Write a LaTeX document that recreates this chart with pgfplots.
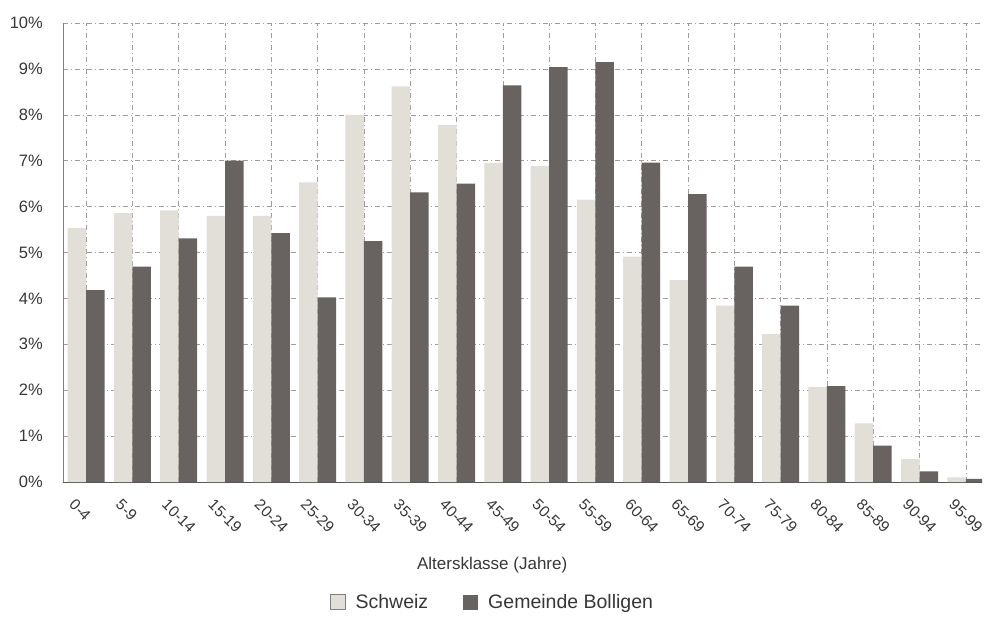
\documentclass[border=0pt]{standalone}
\usepackage{fontspec}
\setmainfont{Liberation Sans}
\usepackage{pgfplots}
\usepackage{pgfplotstable}
\pgfplotsset{compat=1.18}
\definecolor{lightbar}{RGB}{226,223,216}
\definecolor{darkbar}{RGB}{104,99,97}
\definecolor{txt}{RGB}{55,55,55}
\definecolor{gridc}{RGB}{165,155,155}
\pgfplotstableread{
x schweiz bolligen
0 5.53 4.18
1 5.86 4.69
2 5.92 5.31
3 5.80 7.00
4 5.80 5.42
5 6.53 4.02
6 8.00 5.25
7 8.62 6.31
8 7.78 6.50
9 6.95 8.64
10 6.88 9.04
11 6.15 9.15
12 4.91 6.96
13 4.40 6.27
14 3.84 4.69
15 3.22 3.84
16 2.07 2.09
17 1.28 0.79
18 0.50 0.23
19 0.10 0.07
}\datatable
\begin{document}
\begin{tikzpicture}
\useasboundingbox (-63pt,-137pt) rectangle (923pt,482pt);
\begin{axis}[
  at={(0pt,0pt)}, anchor=south west,
  scale only axis, width=919pt, height=459pt,
  xmin=-0.5, xmax=19.35, ymin=0, ymax=10,
  xtick={0,...,19},
  xticklabels={0-4,5-9,10-14,15-19,20-24,25-29,30-34,35-39,40-44,45-49,50-54,55-59,60-64,65-69,70-74,75-79,80-84,85-89,90-94,95-99},
  xticklabel style={xshift=-10pt, yshift=-16pt, rotate=-45, anchor=north west, inner sep=0pt, font=\fontsize{15.5}{18}\selectfont, text=txt},
  ytick={0,...,10},
  yticklabels={0\%,1\%,2\%,3\%,4\%,5\%,6\%,7\%,8\%,9\%,10\%},
  yticklabel style={xshift=-20pt, anchor=east, inner sep=0pt, font=\fontsize{16.5}{19}\selectfont, text=txt},
  major tick length=0pt,
  grid=major,
  major grid style={draw=gridc, line width=0.5pt, dash pattern=on 5pt off 3pt on 1pt off 3pt},
  axis x line*=bottom, axis y line*=left,
  x axis line style={draw=txt!85, line width=0.9pt, -},
  y axis line style={draw=gray, line width=0.9pt, -},
  xlabel={Altersklasse (Jahre)},
  xlabel style={at={(axis description cs:0.467,0)}, anchor=center, yshift=-83pt, font=\fontsize{17}{20}\selectfont, text=txt},
  legend columns=2,
  legend style={at={(axis description cs:0.4663,0)}, anchor=center, yshift=-120pt, draw=none, fill=none, inner sep=0pt,
    font=\fontsize{19.5}{22}\selectfont, text=txt, nodes={inner sep=0pt},
    /tikz/column sep=10pt, /tikz/every even column/.append style={column sep=35pt}},
]
\addplot[ybar, bar width=18.5pt, bar shift=-9.25pt, fill=lightbar, draw=none,
  legend image code/.code={\filldraw[fill=lightbar, draw=gray, line width=0.6pt] (0pt,-7.5pt) rectangle (15pt,7.5pt);}]
  table[x=x, y=schweiz] {\datatable};
\addlegendentry{Schweiz}
\addplot[ybar, bar width=18.5pt, bar shift=9.25pt, fill=darkbar, draw=none,
  legend image code/.code={\fill[darkbar] (0pt,-7.5pt) rectangle (15pt,7.5pt);}]
  table[x=x, y=bolligen] {\datatable};
\addlegendentry{Gemeinde Bolligen}
\end{axis}
\end{tikzpicture}
\end{document}
